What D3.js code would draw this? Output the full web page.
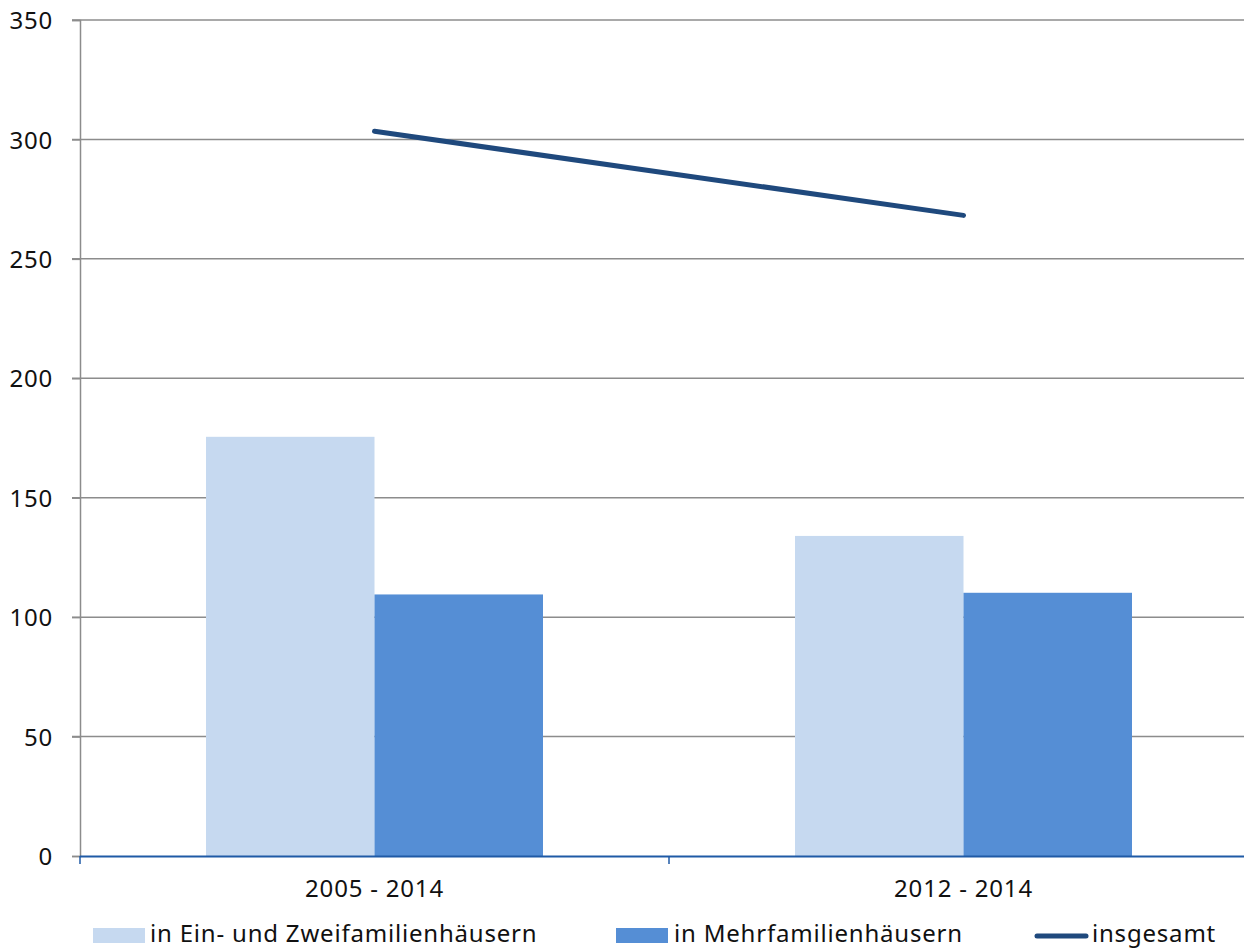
<!DOCTYPE html>
<html><head><meta charset="utf-8">
<script src="https://cdn.jsdelivr.net/npm/d3@7"></script>
<style>body{margin:0;background:#fff}svg{display:block}text{font-family:"Noto Sans",sans-serif;fill:#111;letter-spacing:0.8px}</style>
</head><body><svg id="c" width="1244" height="949"></svg>
<script>
const categories = ["2005 - 2014", "2012 - 2014"];
const seriesNames = ["in Ein- und Zweifamilienhäusern", "in Mehrfamilienhäusern", "insgesamt"];
const einZwei = [175.5, 134];
const mehr = [109.5, 110.2];
const insgesamt = [303.4, 268.2];
const yTicks = [0, 50, 100, 150, 200, 250, 300, 350];

const svg = d3.select("#c");
const L = 80, R = 1244, T = 20, B = 856;
const FS = "24px";
const x = d3.scaleBand().domain(categories).range([L, L + 2 * 589]);
const y = d3.scaleLinear().domain([0, 350]).range([B, T]);
const barW = 168.5;

// gridlines
svg.append("g").selectAll("line").data(yTicks.filter(d => d > 0)).join("line")
  .attr("x1", L - 8).attr("x2", R).attr("y1", d => y(d)).attr("y2", d => y(d))
  .attr("stroke", "#8c8c8c").attr("stroke-width", 1.5);

// y axis
const yAxis = svg.append("g").attr("transform", `translate(${L},0)`)
  .call(d3.axisLeft(y).tickValues(yTicks).tickSize(8).tickPadding(19));
yAxis.select(".domain").attr("stroke", "#8c8c8c").attr("stroke-width", 1.5);
yAxis.selectAll(".tick line").attr("stroke", "#8c8c8c").attr("stroke-width", 1.5);
yAxis.selectAll("text").style("font-size", FS).attr("fill", "#111").attr("dy", "0.36em");

// bars
const cx = d => x(d) + x.bandwidth() / 2;
svg.append("g").selectAll("rect").data(categories).join("rect")
  .attr("x", d => cx(d) - barW).attr("width", barW)
  .attr("y", (d, i) => y(einZwei[i])).attr("height", (d, i) => y(0) - y(einZwei[i]))
  .attr("fill", "#c6d9f0");
svg.append("g").selectAll("rect").data(categories).join("rect")
  .attr("x", d => cx(d)).attr("width", barW)
  .attr("y", (d, i) => y(mehr[i])).attr("height", (d, i) => y(0) - y(mehr[i]))
  .attr("fill", "#558ed5");

// x axis
const xAxis = svg.append("g").attr("transform", `translate(0,${B})`);
xAxis.append("line").attr("x1", L).attr("x2", R).attr("y1", 0.5).attr("y2", 0.5)
  .attr("stroke", "#1f5aa6").attr("stroke-width", 2);
xAxis.selectAll("line.tk").data([L, x(categories[1])]).join("line").attr("class", "tk")
  .attr("x1", d => d).attr("x2", d => d).attr("y1", 0).attr("y2", 8)
  .attr("stroke", "#1f5aa6").attr("stroke-width", 1.5);
xAxis.selectAll("text").data(categories).join("text")
  .attr("x", d => cx(d)).attr("y", 41).attr("text-anchor", "middle")
  .style("font-size", FS).text(d => d);

// line
const line = d3.line().x((d, i) => cx(categories[i])).y(d => y(d));
svg.append("path").datum(insgesamt).attr("d", line)
  .attr("fill", "none").attr("stroke", "#1f497d").attr("stroke-width", 5).attr("stroke-linecap", "round");

// legend
const lg = svg.append("g").attr("transform", "translate(0,934)");
lg.append("rect").attr("x", 93).attr("y", -6).attr("width", 52).attr("height", 15).attr("fill", "#c6d9f0");
lg.append("text").attr("x", 150).attr("y", -1).attr("dy", "0.36em").style("font-size", FS).text(seriesNames[0]);
lg.append("rect").attr("x", 616).attr("y", -6).attr("width", 52).attr("height", 15).attr("fill", "#558ed5");
lg.append("text").attr("x", 674).attr("y", -1).attr("dy", "0.36em").style("font-size", FS).text(seriesNames[1]);
lg.append("line").attr("x1", 1037).attr("x2", 1086).attr("y1", 2).attr("y2", 2)
  .attr("stroke", "#1f497d").attr("stroke-width", 5).attr("stroke-linecap", "round");
lg.append("text").attr("x", 1092).attr("y", -1).attr("dy", "0.36em").style("font-size", FS).text(seriesNames[2]);
</script></body></html>
